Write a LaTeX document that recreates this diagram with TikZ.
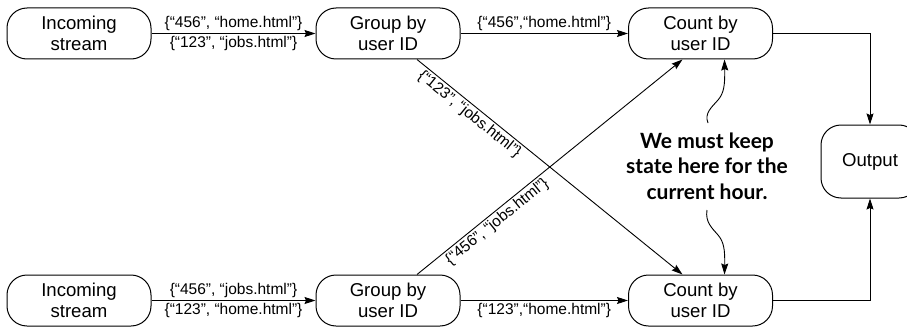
\documentclass[tikz,border=0pt]{standalone}
\usepackage{fontspec}
\setmainfont{Liberation Sans}
\newfontfamily\notefont{Lato}
\usetikzlibrary{arrows.meta,positioning}

\tikzset{
  box/.style={draw, line width=1pt, rounded corners=20pt, minimum width=144pt, minimum height=51pt,
    align=center, inner sep=0pt, font=\fontsize{18.6}{20.5}\selectfont},
  lbl/.style={font=\fontsize{15.5}{17}\selectfont, inner sep=2pt},
  flow/.style={-{Stealth[length=11pt,width=7pt,inset=1.5pt]}, line width=0.9pt},
}

\begin{document}
\begin{tikzpicture}[x=1pt, y=-1pt]
\useasboundingbox (0,0) rectangle (907,329);
% top row
\node[box] (in1) at (79,33.5) {Incoming\\stream};
\node[box] (grp1) at (388,33.5) {Group by\\user ID};
\node[box] (cnt1) at (700.5,33.5) {Count by\\user ID};
% bottom row
\node[box] (in2) at (79,300.5) {Incoming\\stream};
\node[box] (grp2) at (388,300.5) {Group by\\user ID};
\node[box] (cnt2) at (700.5,300.5) {Count by\\user ID};
\node[box, minimum width=98pt, minimum height=73pt] (out) at (870,161.5) {Output};

\draw[flow] (in1) -- node[lbl,above]{\{“456”, “home.html”\}} node[lbl,below]{\{“123”, “jobs.html”\}} (grp1);
\draw[flow] (grp1) -- node[lbl,above]{\{“456”,“home.html”\}} (cnt1);
\draw[flow] (in2) -- node[lbl,above]{\{“456”, “jobs.html”\}} node[lbl,below]{\{“123”, “home.html”\}} (grp2);
\draw[flow] (grp2) -- node[lbl,below]{\{“123”,“home.html”\}} (cnt2);

% cross-over
\draw[flow] ([xshift=29pt]grp1.south) -- node[lbl,sloped,below,pos=.22]{\{“123”, “jobs.html”\}} ([xshift=-18pt]cnt2.north);
\draw[flow] ([xshift=29pt]grp2.north) -- node[lbl,sloped,below,pos=.28]{\{“456”, “jobs.html”\}} ([xshift=-18pt]cnt1.south);

\draw[flow] (cnt1) -| (out);
\draw[flow] (cnt2) -| (out);

% note
\node[font=\notefont\bfseries\fontsize{21}{25.5}\selectfont, align=center, inner sep=0pt] (note) at (707,166) {We must keep\\state here for the\\current hour.};
\coordinate (w1) at (708,123);
\coordinate (w2) at (707,210);
\draw[flow] (w1) .. controls (704,113) and (712,107) .. (718,100) .. controls (724,93) and (725,85) .. ([xshift=24pt]cnt1.south);
\draw[flow] (w2) .. controls (705,222) and (712,228) .. (718,235) .. controls (724,242) and (725,250) .. ([xshift=24pt]cnt2.north);
\end{tikzpicture}
\end{document}
